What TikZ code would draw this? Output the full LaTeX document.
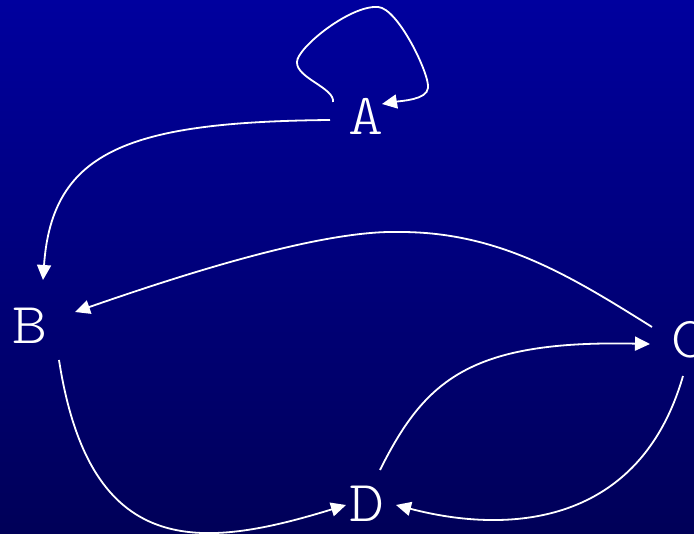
\documentclass[tikz,border=0pt]{standalone}
\usepackage{fontspec}
\setmonofont{Latin Modern Mono Light}
\usepackage{tikz}
\usetikzlibrary{arrows.meta,positioning,calc}
\definecolor{bgtop}{RGB}{0,0,158}
\definecolor{bgbottom}{RGB}{0,0,88}

\begin{document}
\begin{tikzpicture}[
  x=1pt, y=1pt,
  letter/.style={text=white, font=\ttfamily\fontsize{58}{58}\selectfont, inner sep=0pt, xscale=1.15, transform shape},
  arrow/.style={-{Triangle[length=15pt,width=14pt]}, white, line width=1.8pt},
]

% 背景
\shade[top color=bgtop, bottom color=bgbottom] (0,0) rectangle (694,534);
\useasboundingbox (0,0) rectangle (694,534);
\clip (0,0) rectangle (694,534);

% 頂点
\node[letter] (A) at (366,418) {A};
\node[letter] (B) at (30,208) {B};
\node[letter] (C) at (689,194) {C};
\node[letter] (D) at (367,30) {D};

% 自己ループ
\draw[arrow] ([shift={(-33,14)}]A.center)
  .. controls +(2,14) and +(-1,-16) .. ++(-36,40)
  .. controls +(0,14) and +(-28,2) .. ++(81,55)
  .. controls +(20,-1) and +(2,13) .. ++(50,-81)
  .. controls +(-1,-12) and +(18,3) .. ([shift={(16,12)}]A.center);

% 矢印
\draw[arrow] ([shift={(-36,-4)}]A.center)
  .. controls +(-200,-2) and +(9,130) .. ([shift={(13,46)}]B.center);
\draw[arrow] ([shift={(-37,13)}]C.center)
  .. controls +(-80,50) and +(100,0) .. (400,302)
  .. controls +(-70,2) and +(135,47) .. ([shift={(45,14)}]B.center);
\draw[arrow] ([shift={(29,-34)}]B.center)
  .. controls +(31,-200) and +(-146,-45) .. ([shift={(-21,-1)}]D.center);
\draw[arrow] ([shift={(13,34)}]D.center)
  .. controls +(45,90) and +(-180,4) .. ([shift={(-39,-4)}]C.center);
\draw[arrow] ([shift={(-6,-36)}]C.center)
  .. controls +(-43,-149) and +(114,-30) .. ([shift={(29,-1)}]D.center);

\end{tikzpicture}
\end{document}
